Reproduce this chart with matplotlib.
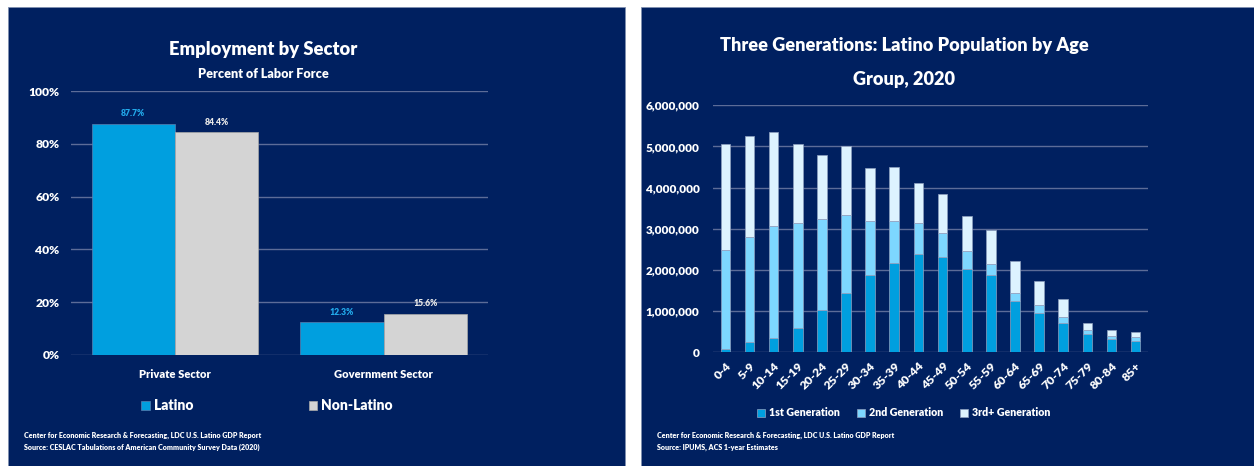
import matplotlib.pyplot as plt
from matplotlib.patches import Rectangle
import numpy as np

plt.rcParams['font.family'] = ['Lato', 'DejaVu Sans']
plt.rcParams['font.weight'] = 'heavy'

# left chart data
sectors = ['Private Sector', 'Government Sector']
latino = [87.7, 12.3]
non_latino = [84.4, 15.6]

# right chart data (people)
ages = ['0-4', '5-9', '10-14', '15-19', '20-24', '25-29', '30-34', '35-39', '40-44',
        '45-49', '50-54', '55-59', '60-64', '65-69', '70-74', '75-79', '80-84', '85+']
gen1 = [90000, 250000, 350000, 580000, 1030000, 1450000, 1870000, 2160000, 2390000,
        2320000, 2020000, 1880000, 1240000, 950000, 700000, 440000, 320000, 280000]
gen2 = [2400000, 2560000, 2710000, 2560000, 2200000, 1890000, 1320000, 1030000, 740000,
        580000, 430000, 270000, 210000, 200000, 160000, 90000, 80000, 80000]
gen3 = [2570000, 2440000, 2280000, 1910000, 1570000, 1660000, 1280000, 1300000, 980000,
        940000, 850000, 810000, 760000, 590000, 440000, 180000, 130000, 130000]

navy = '#002060'
grid_c = '#5C6C98'
blue = '#009FDF'
gray = '#D4D4D4'
c1, c2, c3 = '#009FDF', '#7DD7FF', '#DDF3FF'

W, H = 1254, 466
fig = plt.figure(figsize=(W / 100, H / 100), dpi=100)
fig.patch.set_facecolor('white')

def px(x0, y0, x1, y1):
    return [x0 / W, 1 - y1 / H, (x1 - x0) / W, (y1 - y0) / H]

# panels
for x0, x1 in [(8, 625), (641, 1254)]:
    fig.patches.append(Rectangle((x0 / W, 0), (x1 - x0) / W, 1 - 7 / H,
                                 transform=fig.transFigure, facecolor=navy,
                                 edgecolor='#8090B0', linewidth=0.6, zorder=-10))

def style(ax):
    ax.set_facecolor('none')
    for s in ax.spines.values():
        s.set_visible(False)
    ax.grid(axis='y', color=grid_c, linewidth=1)
    ax.set_axisbelow(True)
    ax.tick_params(length=0, colors='white')

# ---------- left chart ----------
ax = fig.add_axes(px(70.7, 91.3, 488, 354.7))
style(ax)
x = np.arange(len(sectors))
w = 0.4
b1 = ax.bar(x - w / 2, latino, w, color=blue, edgecolor='#5A7FB0', linewidth=0.5, label='Latino')
b2 = ax.bar(x + w / 2, non_latino, w, color=gray, edgecolor='#A8A8A8', linewidth=0.5, label='Non-Latino')
for bars, vals, col in [(b1, latino, '#22A9EA'), (b2, non_latino, '#E8E8E8')]:
    for r, v in zip(bars, vals):
        ax.annotate(f'{v:.1f}%', (r.get_x() + r.get_width() / 2, v), xytext=(0, 7),
                    textcoords='offset points', ha='center', va='center',
                    color=col, fontsize=6.2)
ax.set_xlim(-0.5, 1.5)
ax.set_ylim(0, 100)
ax.set_yticks(range(0, 101, 20))
ax.set_yticklabels([f'{v}%' for v in range(0, 101, 20)], fontsize=8.7)
ax.set_xticks(x)
ax.set_xticklabels(sectors, fontsize=8)
ax.tick_params(axis='x', pad=10)
ax.tick_params(axis='y', pad=8)
ax.legend(loc='center', bbox_to_anchor=(267 / W, 1 - 406 / H), bbox_transform=fig.transFigure,
          ncol=2, frameon=False, fontsize=10, labelcolor='white',
          handlelength=0.6, handleheight=0.6, handletextpad=0.3, columnspacing=8.3)

fig.text(263 / W, 1 - 49 / H, 'Employment by Sector', ha='center', va='center',
         color='white', fontsize=13.2)
fig.text(263 / W, 1 - 74 / H, 'Percent of Labor Force', ha='center', va='center',
         color='white', fontsize=9.1)
fig.text(24 / W, 1 - 435 / H, 'Center for Economic Research & Forecasting, LDC U.S. Latino GDP Report',
         ha='left', va='center', color='white', fontsize=5.1)
fig.text(24 / W, 1 - 447 / H, 'Source: CESLAC Tabulations of American Community Survey Data (2020)',
         ha='left', va='center', color='white', fontsize=5.1)

# ---------- right chart ----------
ax2 = fig.add_axes(px(713.3, 105.3, 1147.7, 352.3))
style(ax2)
xa = np.arange(len(ages))
g1 = np.array(gen1)
g2 = np.array(gen2)
g3 = np.array(gen3)
ec = '#8FA0C0'
ax2.bar(xa, g1, 0.4, color=c1, edgecolor=ec, linewidth=0.5, label='1st Generation')
ax2.bar(xa, g2, 0.4, bottom=g1, color=c2, edgecolor=ec, linewidth=0.5, label='2nd Generation')
ax2.bar(xa, g3, 0.4, bottom=g1 + g2, color=c3, edgecolor=ec, linewidth=0.5, label='3rd+ Generation')
ax2.set_xlim(-0.5, len(ages) - 0.5)
ax2.set_ylim(0, 6000000)
ax2.set_yticks(range(0, 6000001, 1000000))
ax2.set_yticklabels([f'{v:,}' for v in range(0, 6000001, 1000000)], fontsize=8.5)
ax2.set_xticks(xa)
ax2.set_xticklabels(ages, rotation=45, ha='right', rotation_mode='anchor', fontsize=8.8)
ax2.tick_params(axis='x', pad=6)
ax2.tick_params(axis='y', pad=10)
ax2.legend(loc='center', bbox_to_anchor=(904 / W, 1 - 413 / H), bbox_transform=fig.transFigure,
           ncol=3, frameon=False, fontsize=7.7, labelcolor='white',
           handlelength=0.7, handleheight=0.7, handletextpad=0.4, columnspacing=1.6)

fig.text(904 / W, 1 - 45 / H, 'Three Generations: Latino Population by Age',
         ha='center', va='center', color='white', fontsize=13.1)
fig.text(904 / W, 1 - 80 / H, 'Group, 2020',
         ha='center', va='center', color='white', fontsize=13.1)
fig.text(657 / W, 1 - 435 / H, 'Center for Economic Research & Forecasting, LDC U.S. Latino GDP Report',
         ha='left', va='center', color='white', fontsize=5.1)
fig.text(657 / W, 1 - 447 / H, 'Source: IPUMS, ACS 1-year Estimates',
         ha='left', va='center', color='white', fontsize=5.1)

plt.savefig('out.png', dpi=100, facecolor=fig.get_facecolor())
